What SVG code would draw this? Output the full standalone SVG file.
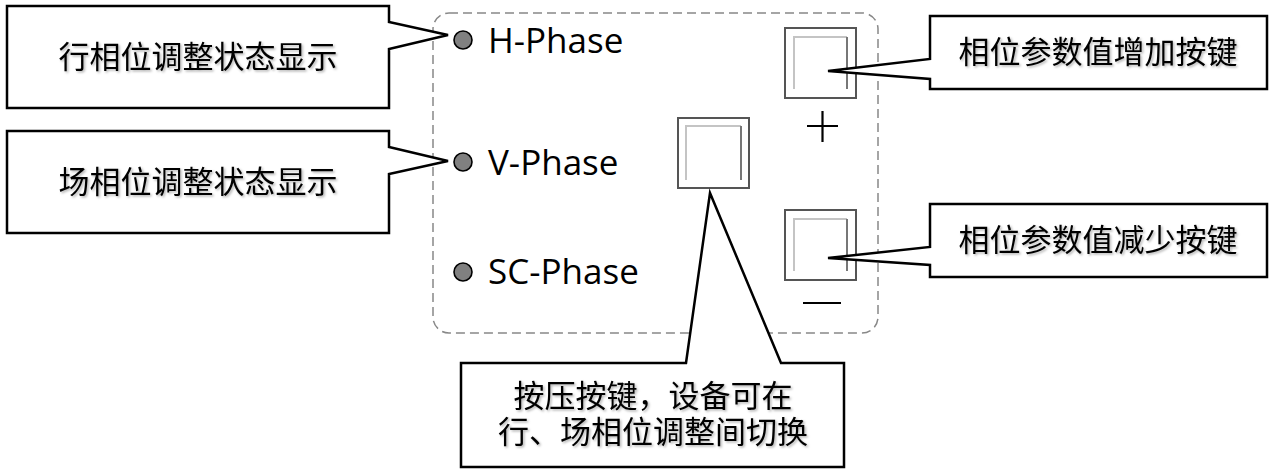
<svg xmlns="http://www.w3.org/2000/svg" width="1270" height="469" viewBox="0 0 1270 469">
<defs>
<style>
.callout{fill:#fff;stroke:#000;stroke-width:2.5;stroke-linejoin:miter}
.cjk{font-family:"Noto Sans CJK SC","Microsoft YaHei",sans-serif;font-size:31px;fill:#000;text-anchor:middle}
.lat{font-family:"Open Sans","Noto Sans",sans-serif;font-size:35px;fill:#000}
.dot{fill:#808080;stroke:#000;stroke-width:1.6}
.btn{fill:#fff;stroke:#555;stroke-width:2}
.inL{fill:none;stroke:#c4c4c4;stroke-width:2}
.inR{fill:none;stroke:#777;stroke-width:2}
.sym{stroke:#000;stroke-width:2.2;fill:none}
</style>
<filter id="sh" x="-5%" y="-20%" width="110%" height="140%">
<feDropShadow dx="1.5" dy="1.5" stdDeviation="1" flood-color="#000" flood-opacity="0.3"/>
</filter>
</defs>
<rect width="1270" height="469" fill="#fff"/>

<g id="panel">
<rect x="433" y="13" width="445" height="320" rx="16" ry="16" fill="none" stroke="#888" stroke-width="1.5" stroke-dasharray="9,5"/>
</g>

<g id="h-phase">
<circle class="dot" cx="463" cy="40" r="9"/>
<text class="lat" x="488" y="53">H-Phase</text>
</g>
<g id="v-phase">
<circle class="dot" cx="463" cy="162" r="9"/>
<text class="lat" x="488" y="175">V-Phase</text>
</g>
<g id="sc-phase">
<circle class="dot" cx="463" cy="272" r="9"/>
<text class="lat" x="488" y="284">SC-Phase</text>
</g>

<g id="btn-plus">
<rect class="btn" x="785" y="28" width="71" height="70"/>
<path class="inL" d="M794 89V37H847"/>
<path class="inR" d="M847 37V89"/>
<path class="sym" d="M807 126H838M822.5 111V142"/>
</g>
<g id="btn-minus">
<rect class="btn" x="785" y="210" width="71" height="70"/>
<path class="inL" d="M794 271V219H847"/>
<path class="inR" d="M847 219V271"/>
<path class="sym" d="M803 303H841"/>
</g>
<g id="btn-switch">
<rect class="btn" x="678" y="118" width="71" height="70"/>
<path class="inL" d="M686 180V126H741"/>
<path class="inR" d="M741 126V180"/>
</g>

<g id="connectors">
<path class="callout" d="M7 6H389V22L448 35L389 49V108H7Z"/>
<path class="callout" d="M7 131H389V147L448 161L389 174V233H7Z"/>
<path class="callout" d="M930 16H1267V89H930V79L828 71L930 59Z"/>
<path class="callout" d="M930 204H1267V277H930V265L828 258L930 247Z"/>
<path class="callout" d="M461 363H686L710 193L781 363H844V467H461Z"/>
</g>

<g id="label-h" filter="url(#sh)">
<text class="cjk" x="198" y="68">行相位调整状态显示</text>
</g>
<g id="label-v" filter="url(#sh)">
<text class="cjk" x="198" y="193">场相位调整状态显示</text>
</g>
<g id="label-plus" filter="url(#sh)">
<text class="cjk" x="1098" y="63">相位参数值增加按键</text>
</g>
<g id="label-minus" filter="url(#sh)">
<text class="cjk" x="1098" y="251">相位参数值减少按键</text>
</g>
<g id="label-switch" filter="url(#sh)">
<text class="cjk" x="653" y="407">按压按键，设备可在</text>
<text class="cjk" x="653" y="443">行、场相位调整间切换</text>
</g>
</svg>
